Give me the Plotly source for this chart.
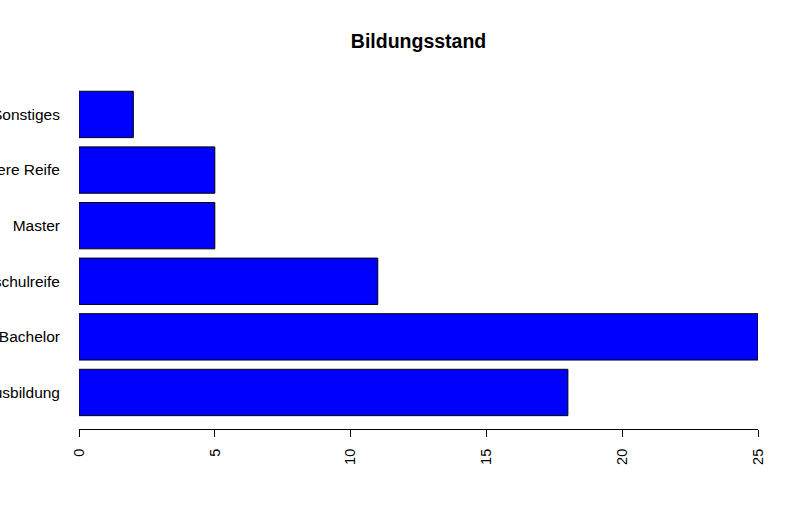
import plotly.graph_objects as go

categories = ["Ausbildung", "Bachelor", "Hochschulreife", "Master", "Mittlere Reife", "Sonstiges"]
values = [18, 25, 11, 5, 5, 2]
positions = [0.7, 1.9, 3.1, 4.3, 5.5, 6.7]
x_ticks = [0, 5, 10, 15, 20, 25]

fig = go.Figure(go.Bar(
    x=values, y=positions, orientation="h", width=1.0,
    marker=dict(color="#0000FF", line=dict(color="black", width=1)),
))

font = "Liberation Sans, Arial, sans-serif"
fig.update_layout(
    width=798, height=527,
    margin=dict(l=79, r=40, t=82, b=98, autoexpand=False),
    plot_bgcolor="white", paper_bgcolor="white",
    showlegend=False,
    font=dict(family=font, size=16, color="black"),
    title=dict(text="<b>Bildungsstand</b>", x=0.5245, xanchor="center", y=1 - 41 / 527, yanchor="middle",
               font=dict(family=font, size=19.5, color="black")),
)
fig.update_xaxes(
    range=[0, 25], tickvals=x_ticks, ticktext=[str(v) for v in x_ticks],
    showline=True, linecolor="black", linewidth=1, mirror=False,
    ticks="outside", ticklen=7, tickcolor="black", tickwidth=1,
    tickangle=-90, showgrid=False, zeroline=False, automargin=False,
    tickfont=dict(size=14.5), ticklabelstandoff=6,
)
fig.update_yaxes(
    range=[-0.088, 7.4], tickvals=positions, ticktext=categories,
    showline=False, showgrid=False, zeroline=False, ticks="",
    ticklabelstandoff=18, automargin=False,
    tickfont=dict(size=15.5),
)
fig.write_html("out.html", config={"displayModeBar": False},
               post_script="document.body.style.margin='0';")
